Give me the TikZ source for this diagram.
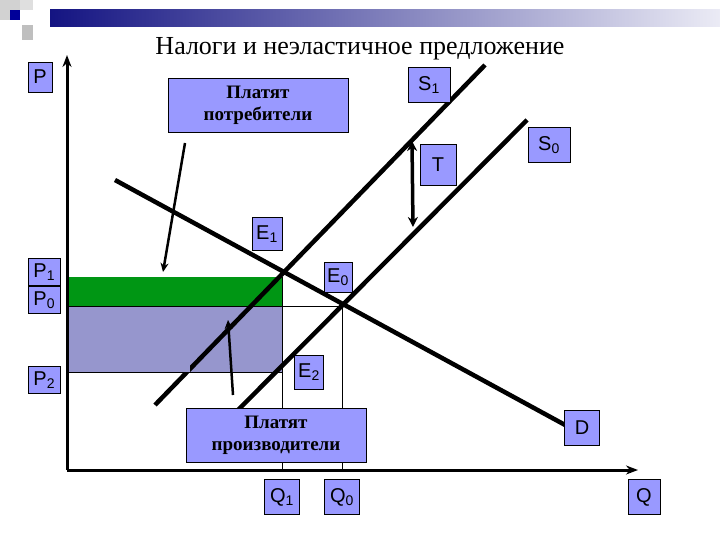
\documentclass[tikz,border=0pt]{standalone}
\usepackage{fontspec}
\usetikzlibrary{arrows.meta}
\setmainfont{Liberation Serif}
\newfontfamily\arialf{Liberation Sans}
\begin{document}
\begin{tikzpicture}[x=1pt,y=-1pt,
 lbl/.style={draw=black,line width=0.6pt,fill=boxc,font=\arialf\fontsize{20}{22}\selectfont,inner sep=0pt,minimum width=#1,minimum height=33},
 lbl/.default=30,
 txtbox/.style={draw=black,line width=0.6pt,fill=boxc,font=\bfseries\fontsize{19}{22}\selectfont,align=center,minimum width=180,minimum height=54,inner sep=0pt},
 curve/.style={line width=4.5pt},
 thin/.style={line width=0.6pt},
 pointer/.style={line width=2.5pt,-{Stealth[length=9pt,width=8pt]}}]
\definecolor{boxc}{RGB}{153,153,255}
\definecolor{prod}{RGB}{150,150,205}
\definecolor{grn}{RGB}{0,150,20}
\definecolor{bard}{RGB}{20,20,130}
\definecolor{barl}{RGB}{235,235,245}
\useasboundingbox (0,0) rectangle (720,540);
\fill[white] (0,0) rectangle (720,540);
% decoration
\shade[left color=bard,right color=barl] (50,10) rectangle (720,27);
\fill[gray!35] (0,0) rectangle (20,20);
\fill[gray!50] (22,25) rectangle (33,40);
\fill[gray!25] (20,0) rectangle (33,10);
\fill[blue!60!black] (10,10) rectangle (20,20);
\node (title) at (360,49) {\fontsize{26}{28}\selectfont Налоги и неэластичное предложение};
% rectangles
\fill[grn] (67,277) rectangle (282,306);
\fill[prod] (67,306) rectangle (282,372);
\draw[thin] (67,306) -- (342,306);
\draw[thin] (67,372) -- (282,372);
\draw[thin] (282,277) -- (282,470);
\draw[thin] (342,306) -- (342,470);
% axes
\coordinate (O) at (67,470);
\coordinate (Ytop) at (67,55);
\coordinate (Xend) at (638,470);
\draw[line width=3pt,-{Stealth[length=12pt,width=9pt]}] (O) -- (Ytop);
\draw[line width=3pt,-{Stealth[length=12pt,width=9pt]}] (O) -- (Xend);
% curves
\coordinate (s1a) at (155,405); \coordinate (s1b) at (485,65);
\coordinate (s0a) at (238,410); \coordinate (s0b) at (527,120);
\coordinate (da) at (115,180); \coordinate (db) at (578,432);
\draw[curve] (s1a) -- (s1b);
\draw[curve] (s0a) -- (s0b);
\draw[curve] (da) -- (db);
% redraw rectangles over S1 lower part
\fill[prod] (155,330) rectangle (190,371.7);
% T arrow
\coordinate (ta) at (412,141); \coordinate (tb) at (413,227);
\draw[line width=3.5pt,{Stealth[length=10pt,width=10pt]}-{Stealth[length=10pt,width=10pt]}] (ta) -- (tb);
% boxes
\node[txtbox] (cons) at (258,105) {Платят\\потребители};
\node[txtbox] (prodb) at (276,435) {Платят\\производители};
\coordinate (c1) at (185,143); \coordinate (c2) at (163,272);
\coordinate (p1) at (233,395); \coordinate (p2) at (228,320);
\draw[pointer] (c1) -- (c2);
\draw[pointer] (p1) -- (p2);
% labels
\node[lbl=24,minimum height=30] (P) at (40,77) {P};
\node[lbl=32,minimum height=27,anchor=north west] (P1) at (28,258) {P\textsubscript{1}};
\node[lbl=32,minimum height=27,anchor=north west] (P0) at (28,286) {P\textsubscript{0}};
\node[lbl=32,minimum height=27,anchor=north west] (P2) at (28,366) {P\textsubscript{2}};
\node[lbl=30] (E1) at (267,234) {E\textsubscript{1}};
\node[lbl=28,minimum height=30] (E0) at (338,277) {E\textsubscript{0}};
\node[lbl=29,minimum height=34] (E2) at (309,372) {E\textsubscript{2}};
\node[lbl=35,minimum height=35] (Q1) at (282,497) {Q\textsubscript{1}};
\node[lbl=35,minimum height=35] (Q0) at (342,497) {Q\textsubscript{0}};
\node[lbl=32,minimum height=35] (Q) at (644,497) {Q};
\node[lbl=35,minimum height=35] (D) at (582,428) {D};
\node[lbl=42,minimum height=35] (S0) at (549,145) {S\textsubscript{0}};
\node[lbl=36,minimum height=41] (T) at (438,165) {T};
\node[lbl=42,minimum height=35] (S1) at (429,85) {S\textsubscript{1}};
\end{tikzpicture}
\end{document}
